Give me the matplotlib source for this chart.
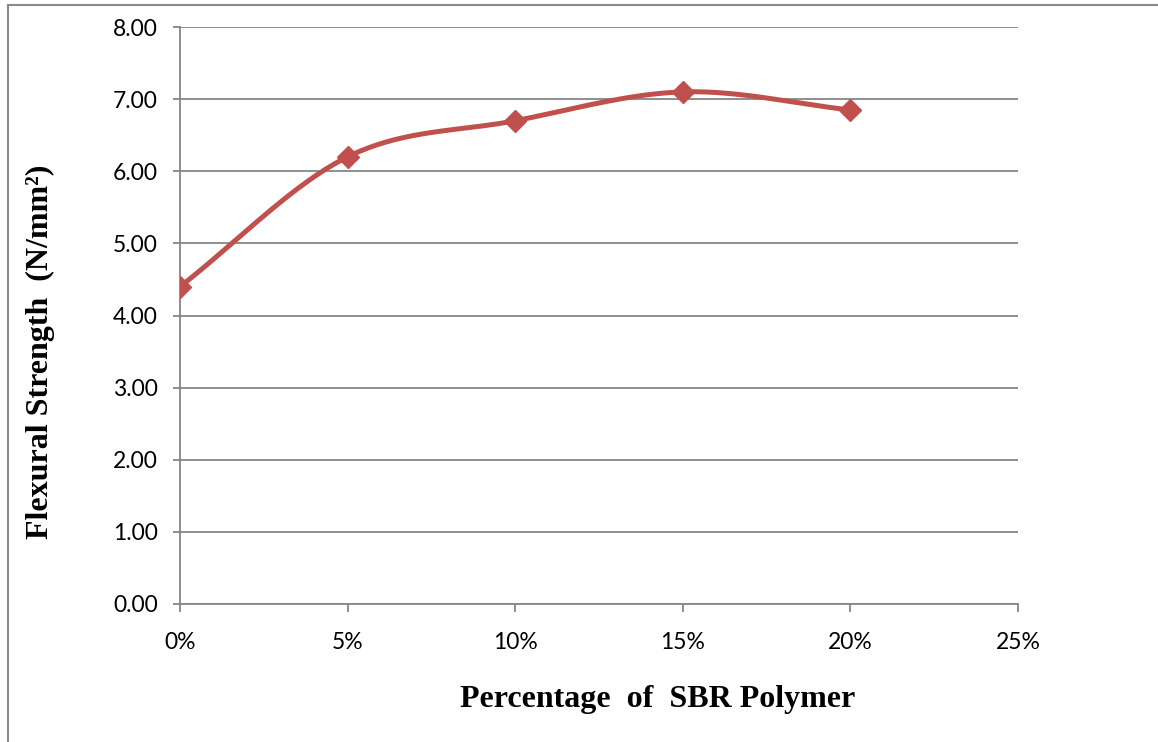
import numpy as np
import matplotlib
matplotlib.use("Agg")
import matplotlib.pyplot as plt
from matplotlib.ticker import FuncFormatter
from matplotlib.lines import Line2D

# SBR polymer dosage vs flexural strength
sbr_pct = [0, 5, 10, 15, 20]
flexural = [4.40, 6.20, 6.70, 7.10, 6.85]

LINE_COLOR = "#C0504D"
GRID_COLOR = "#868686"
W, H = 1158, 742


def smooth_curve(x, y, steps=40):
    # Catmull-Rom style smoothing through every point (like a spreadsheet "smoothed line")
    x = np.asarray(x, float)
    y = np.asarray(y, float)
    px = np.concatenate([[2 * x[0] - x[1]], x, [2 * x[-1] - x[-2]]])
    py = np.concatenate([[2 * y[0] - y[1]], y, [2 * y[-1] - y[-2]]])
    xs, ys = [], []
    t = np.linspace(0, 1, steps)
    for i in range(1, len(px) - 2):
        p0, p1, p2, p3 = (np.array([px[j], py[j]]) for j in range(i - 1, i + 3))
        c1 = p1 + (p2 - p0) / 6.0
        c2 = p2 - (p3 - p1) / 6.0
        pts = ((1 - t) ** 3)[:, None] * p1 + (3 * (1 - t) ** 2 * t)[:, None] * c1 \
            + (3 * (1 - t) * t ** 2)[:, None] * c2 + (t ** 3)[:, None] * p2
        xs.extend(pts[:, 0])
        ys.extend(pts[:, 1])
    return np.array(xs), np.array(ys)


fig = plt.figure(figsize=(W / 100, H / 100), dpi=100)
ax = fig.add_axes([180 / W, 1 - 604 / H, (1018 - 180) / W, (604 - 27) / H])

sx, sy = smooth_curve(sbr_pct, flexural)
ax.plot(sx, sy, color=LINE_COLOR, lw=3.6, solid_capstyle="round", zorder=3)
ax.plot(sbr_pct, flexural, linestyle="none", marker="D", ms=11,
        color=LINE_COLOR, zorder=4)

ax.set_xlim(0, 25)
ax.set_ylim(0, 8)
ax.set_xticks(np.arange(0, 26, 5))
ax.set_yticks(np.arange(0, 9, 1))
ax.xaxis.set_major_formatter(FuncFormatter(lambda v, p: f"{v:.0f}%"))
ax.yaxis.set_major_formatter(FuncFormatter(lambda v, p: f"{v:.2f}"))

ax.grid(axis="y", color=GRID_COLOR, lw=1.3)
ax.set_axisbelow(True)
for side in ["top", "right"]:
    ax.spines[side].set_visible(False)
for side in ["left", "bottom"]:
    ax.spines[side].set_color(GRID_COLOR)
    ax.spines[side].set_linewidth(1.3)

ax.tick_params(axis="both", colors=GRID_COLOR, labelcolor="black",
               labelsize=16.5, width=1.3)
ax.tick_params(axis="x", length=6, pad=14)
ax.tick_params(axis="y", length=5, pad=11)
for lbl in ax.get_xticklabels() + ax.get_yticklabels():
    lbl.set_fontfamily("Lato")

# axis titles placed by figure pixel position
fig.text(658 / W, 1 - 699 / H, "Percentage  of  SBR Polymer",
         fontfamily="Liberation Serif", fontweight="bold", fontsize=23,
         ha="center", va="center")
fig.text(40 / W, 1 - 352 / H, "Flexural Strength  (N/mm²)",
         fontfamily="Liberation Serif", fontweight="bold", fontsize=23,
         ha="center", va="center", rotation=90)

# outer chart frame (top and left edges)
fig.add_artist(Line2D([8 / W, 8 / W], [0, 1 - 5 / H],
                      transform=fig.transFigure, color="#8a8a8a", lw=1.5))
fig.add_artist(Line2D([8 / W, 1], [1 - 5 / H, 1 - 5 / H],
                      transform=fig.transFigure, color="#8a8a8a", lw=1.5))

fig.savefig("out.png", dpi=100)
